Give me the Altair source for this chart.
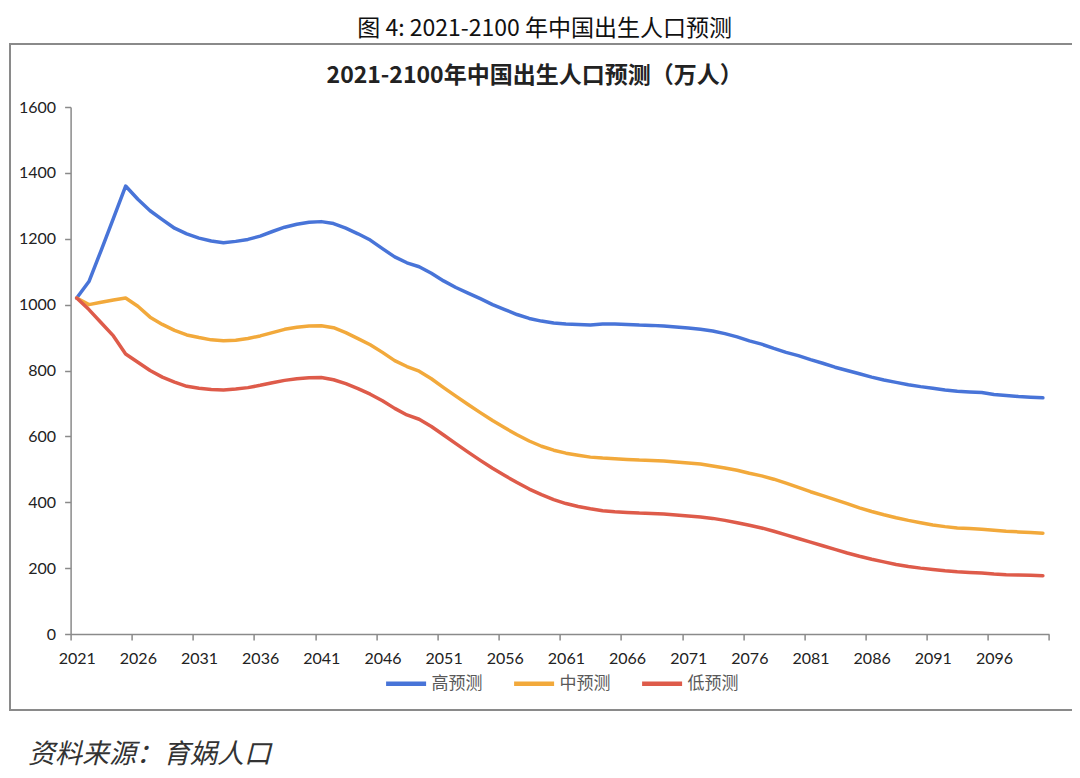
import altair as alt
import pandas as pd

YEARS = list(range(2021, 2101))

HIGH = [1020, 1070, 1165, 1262, 1360, 1320, 1285, 1258, 1232, 1215,
        1202, 1193, 1188, 1192, 1198, 1208, 1222, 1235, 1244, 1250,
        1252, 1246, 1232, 1215, 1196, 1170, 1145, 1127, 1115, 1095,
        1072, 1052, 1035, 1018, 1000, 985, 970, 958, 950, 944,
        941, 940, 938, 941, 941, 940, 938, 937, 935, 932,
        929, 925, 920, 912, 902, 890, 880, 867, 855, 845,
        833, 822, 810, 800, 790, 780, 771, 764, 757, 751,
        746, 741, 737, 735, 733, 727, 724, 721, 719, 717]

MID = [1020, 1000, 1007, 1014, 1020, 995, 962, 940, 922, 908,
       900, 893, 890, 892, 897, 905, 915, 925, 931, 935,
       936, 930, 915, 897, 878, 855, 830, 812, 798, 775,
       748, 722, 697, 672, 648, 626, 605, 586, 570, 558,
       549, 543, 537, 534, 532, 530, 528, 527, 525, 522,
       519, 516, 510, 504, 497, 488, 480, 470, 458, 445,
       432, 420, 408, 396, 383, 372, 362, 353, 345, 338,
       331, 326, 322, 320, 318, 315, 312, 310, 308, 306]

LOW = [1020, 985, 945, 905, 850, 825, 800, 780, 765, 752,
       746, 742, 741, 744, 748, 755, 763, 770, 775, 778,
       779, 772, 760, 745, 728, 708, 685, 665, 652, 630,
       604, 578, 552, 527, 503, 481, 460, 440, 423, 408,
       396, 387, 380, 374, 371, 369, 367, 366, 364, 361,
       358, 355, 351, 345, 338, 330, 322, 312, 301, 290,
       279, 268, 257, 246, 236, 227, 219, 211, 205, 200,
       196, 192, 189, 187, 185, 182, 180, 179, 178, 177]

SERIES = ["高预测", "中预测", "低预测"]
COLORS = ["#4874D8", "#F2A93B", "#DE5B4A"]
Y_TICKS = [0, 200, 400, 600, 800, 1000, 1200, 1400, 1600]
X_TICKS = [2020.5 + 5 * i for i in range(17)]

OUTER_TITLE = "图 4: 2021-2100 年中国出生人口预测"
INNER_TITLE = "2021-2100年中国出生人口预测（万人）"
SOURCE = "资料来源：育娲人口"

rows = []
for name, vals in zip(SERIES, [HIGH, MID, LOW]):
    for yr, v in zip(YEARS, vals):
        rows.append({"年份": yr, "预测": name, "出生人口": v})
df = pd.DataFrame(rows)

W, H = 978.4, 527
CJK = "Noto Sans CJK SC"

lines = alt.Chart(df).mark_line(strokeWidth=3.5, strokeCap="round", strokeJoin="round").encode(
    x=alt.X("年份:Q",
            scale=alt.Scale(domain=[2020.5, 2100.5], nice=False, zero=False),
            axis=alt.Axis(values=X_TICKS,
                          labelExpr="datum.value > 2100 ? '' : format(datum.value + 0.5, 'd')",
                          labelOffset=6.1, labelFlush=False, labelOverlap=False,
                          grid=False, title=None, tickSize=6, labelPadding=10,
                          labelFontSize=16, labelFont="Lato", labelColor="#222",
                          domainColor="#8a8a8a", tickColor="#8a8a8a", domainWidth=1.5, tickWidth=1.5)),
    y=alt.Y("出生人口:Q",
            scale=alt.Scale(domain=[0, 1600], nice=False),
            axis=alt.Axis(values=Y_TICKS, format="d", grid=False, title=None, tickSize=6, labelPadding=9,
                          labelFlush=False, labelOverlap=False,
                          labelFontSize=16, labelFont="Lato", labelColor="#222",
                          domainColor="#8a8a8a", tickColor="#8a8a8a", domainWidth=1.5, tickWidth=1.5)),
    color=alt.Color("预测:N", sort=SERIES,
                    scale=alt.Scale(domain=SERIES, range=COLORS),
                    legend=alt.Legend(orient="none", legendX=313, legendY=554, direction="horizontal",
                                      title=None, symbolType="stroke", symbolSize=1600,
                                      symbolStrokeWidth=4.5, labelFontSize=17, labelFont=CJK,
                                      labelColor="#595959", columnPadding=22, labelOffset=3)),
)

one = pd.DataFrame({"k": [0]})

box = alt.Chart(one).mark_rect(fillOpacity=0, stroke="#8a8a8a", strokeWidth=2).encode(
    x=alt.value(-60.6), x2=alt.value(1002.4), y=alt.value(-63), y2=alt.value(603))

outer = alt.Chart(one).mark_text(text=OUTER_TITLE, font=CJK, fontSize=23, color="#111",
                                 align="center", baseline="middle").encode(
    x=alt.value(474), y=alt.value(-78))

inner = alt.Chart(one).mark_text(text=INNER_TITLE, font=CJK, fontSize=23, fontWeight="bold",
                                 color="#222", align="center", baseline="middle").encode(
    x=alt.value(464), y=alt.value(-31))

source = alt.Chart(one).mark_text(text=SOURCE, font=CJK, fontSize=27, fontStyle="italic",
                                  color="#333", align="left", baseline="middle").encode(
    x=alt.value(-42.6), y=alt.value(648))

chart = alt.layer(box, lines, outer, inner, source).properties(
    width=W, height=H, autosize="none",
    padding={"left": 62.6, "top": 99, "right": 23, "bottom": 136},
).configure_view(stroke=None)

chart.save("out.html", embed_options={"renderer": "svg", "actions": False})
